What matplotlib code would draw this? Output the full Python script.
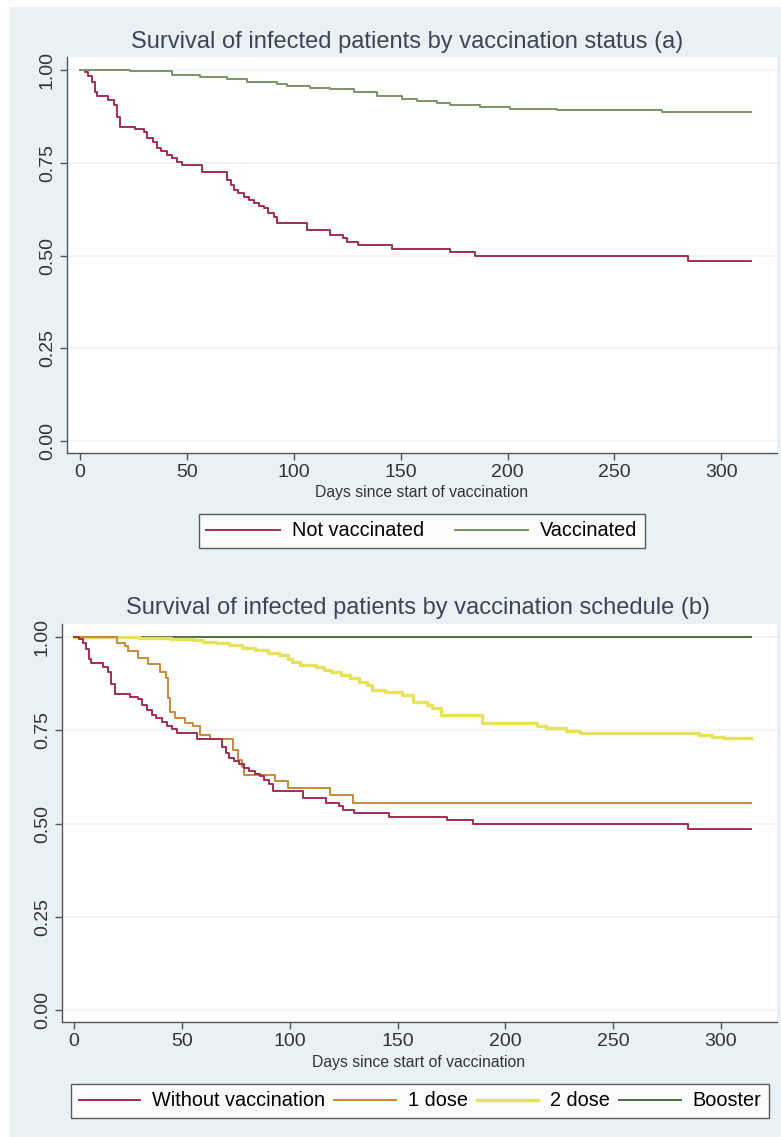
import matplotlib
matplotlib.use("Agg")
import matplotlib.pyplot as plt
from matplotlib.patches import Rectangle
from matplotlib.lines import Line2D

plt.rcParams["font.family"] = ["Liberation Sans", "DejaVu Sans"]

# Kaplan-Meier step data (days, survival)
days_unvacc = [0, 2.5, 4, 5.6, 7, 8, 13.4, 15.8, 17.3, 18.9, 25.9, 29.8, 31.4, 34, 36, 38,
               40.7, 43, 45.4, 47.7, 57, 68.8, 70.5, 71.9, 74, 76.6, 79, 81.3, 84, 86, 88,
               90.6, 92.2, 106.2, 117, 123, 124.8, 130, 146, 173, 185, 284.5, 314]
surv_unvacc = [1.0, 0.995, 0.985, 0.968, 0.94, 0.93, 0.919, 0.906, 0.874, 0.847, 0.840,
               0.834, 0.817, 0.805, 0.79, 0.782, 0.771, 0.762, 0.753, 0.744, 0.726, 0.704,
               0.69, 0.677, 0.668, 0.659, 0.65, 0.641, 0.634, 0.627, 0.616, 0.605, 0.587,
               0.569, 0.555, 0.546, 0.537, 0.528, 0.517, 0.510, 0.499, 0.485, 0.485]

days_vacc = [0, 23.5, 43, 56, 68.7, 78, 92, 97, 107.6, 117, 128, 139, 150.5, 157.5, 167,
             173, 187, 201, 223, 272, 314]
surv_vacc = [1.0, 0.997, 0.986, 0.981, 0.976, 0.967, 0.963, 0.957, 0.951, 0.948, 0.941,
             0.930, 0.921, 0.916, 0.910, 0.906, 0.900, 0.896, 0.892, 0.888, 0.888]

days_1dose = [0, 20, 23.7, 25.2, 29.8, 34.5, 40, 42.5, 43.7, 44.5, 47, 51.5, 55, 58.4, 63,
              73.9, 76, 78, 78.8, 93.2, 99.3, 118.7, 129.5, 314]
surv_1dose = [1.0, 0.984, 0.975, 0.962, 0.944, 0.929, 0.907, 0.89, 0.836, 0.80, 0.782,
              0.770, 0.761, 0.738, 0.727, 0.698, 0.67, 0.652, 0.631, 0.613, 0.595, 0.576,
              0.556, 0.556]

days_2dose = [0, 30, 45, 55, 60, 66, 72, 78, 84, 90, 95, 99, 101, 105, 112, 116, 119, 124,
              128, 132, 135.7, 138, 144, 152, 157, 163.5, 166, 170, 189, 214.5, 219, 228,
              234.5, 290, 296, 301, 314]
surv_2dose = [1.0, 0.998, 0.995, 0.992, 0.988, 0.983, 0.978, 0.970, 0.965, 0.958, 0.952,
              0.940, 0.934, 0.925, 0.920, 0.912, 0.905, 0.897, 0.889, 0.880, 0.871, 0.858,
              0.852, 0.845, 0.827, 0.818, 0.810, 0.791, 0.769, 0.762, 0.755, 0.749, 0.742,
              0.737, 0.733, 0.729, 0.729]

days_booster = [0, 314]
surv_booster = [1.0, 1.0]

x_ticks = [0, 50, 100, 150, 200, 250, 300]
y_ticks = [0.0, 0.25, 0.5, 0.75, 1.0]

title_a = "Survival of infected patients by vaccination status (a)"
title_b = "Survival of infected patients by vaccination schedule (b)"
xlabel = "Days since start of vaccination"
labels_a = ["Not vaccinated", "Vaccinated"]
labels_b = ["Without vaccination", "1 dose", "2 dose", "Booster"]

RED = "#a32c52"
GREEN_A = "#7f9366"
ORANGE = "#c98a38"
YELLOW = "#e6e25c"
GREEN_B = "#4f6b45"
BG = "#eaf1f4"
TXT = "#3a4658"
AX = "#555555"

W, H = 781, 1137
fig = plt.figure(figsize=(W / 100, H / 100), dpi=100)
fig.patch.set_facecolor("white")
fig.patches.append(Rectangle((10 / W, 0), 1 - 10 / W, 1 - 7 / H, transform=fig.transFigure,
                             facecolor=BG, edgecolor="none", zorder=-10))


def px_axes(left, top, right, bottom):
    return fig.add_axes([left / W, 1 - bottom / H, (right - left) / W, (bottom - top) / H])


def style(ax):
    ax.set_facecolor("white")
    for s in ("top", "right"):
        ax.spines[s].set_visible(False)
    for s in ("left", "bottom"):
        ax.spines[s].set_color(AX)
        ax.spines[s].set_linewidth(1.0)
    ax.set_xlim(-6, 326)
    ax.set_ylim(-0.032, 1.035)
    ax.set_xticks(x_ticks)
    ax.set_yticks(y_ticks)
    ax.set_yticklabels([f"{v:.2f}" for v in y_ticks])
    ax.tick_params(axis="both", direction="out", length=5, width=1, color=AX,
                   labelsize=14, labelcolor="#333333", pad=3)
    ax.tick_params(axis="y", labelrotation=90)
    for lab in ax.get_yticklabels():
        lab.set_va("center")
    ax.grid(axis="y", color="#f0f4f6", linewidth=1.2)
    ax.set_axisbelow(True)


# panel (a)
ax1 = px_axes(67, 57, 777, 453)
style(ax1)
ax1.step(days_unvacc, surv_unvacc, where="post", color=RED, lw=1.4)
ax1.step(days_vacc, surv_vacc, where="post", color=GREEN_A, lw=1.4)
fig.text(407 / W, 1 - 42 / H, title_a, ha="center", va="center", fontsize=17, color=TXT)
fig.text(422 / W, 1 - 493 / H, xlabel, ha="center", va="center", fontsize=11.3, color="#333333")
h1 = [Line2D([], [], color=RED, lw=1.4), Line2D([], [], color=GREEN_A, lw=1.4)]
leg1 = fig.legend(h1, labels_a, loc="center", bbox_to_anchor=(422 / W, 1 - 531 / H), ncol=2,
                  fontsize=14.3, handlelength=3.7, handletextpad=0.6, columnspacing=1.55,
                  frameon=True, fancybox=False, edgecolor="#333333", borderpad=0.4)
leg1.get_frame().set_linewidth(1.0)

# panel (b)
ax2 = px_axes(62, 624, 777, 1022)
style(ax2)
ax2.set_xlim(-5.6, 326)
ax2.step(days_booster, surv_booster, where="post", color=GREEN_B, lw=1.4, zorder=2)
ax2.step(days_2dose, surv_2dose, where="post", color=YELLOW, lw=2.4, zorder=3)
ax2.step(days_1dose, surv_1dose, where="post", color=ORANGE, lw=1.4, zorder=4)
ax2.step(days_unvacc, surv_unvacc, where="post", color=RED, lw=1.4, zorder=5)
fig.text(418 / W, 1 - 608 / H, title_b, ha="center", va="center", fontsize=17, color=TXT)
fig.text(419 / W, 1 - 1062 / H, xlabel, ha="center", va="center", fontsize=11.3, color="#333333")
h2 = [Line2D([], [], color=RED, lw=1.4), Line2D([], [], color=ORANGE, lw=1.4),
      Line2D([], [], color=YELLOW, lw=2.4), Line2D([], [], color=GREEN_B, lw=1.4)]
leg2 = fig.legend(h2, labels_b, loc="center", bbox_to_anchor=(420 / W, 1 - 1101 / H), ncol=4,
                  fontsize=14.3, handlelength=3.1, handletextpad=0.6, columnspacing=0.45,
                  frameon=True, fancybox=False, edgecolor="#333333", borderpad=0.4)
leg2.get_frame().set_linewidth(1.0)

fig.savefig("out.png", dpi=100, facecolor=fig.get_facecolor())
